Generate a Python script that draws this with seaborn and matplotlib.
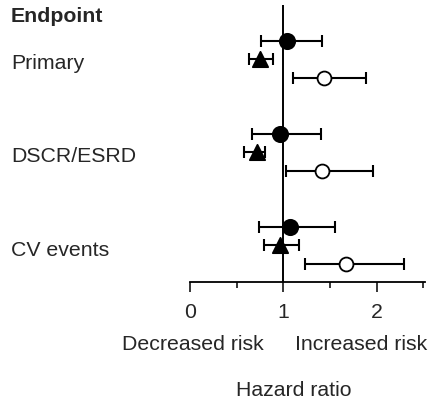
import numpy as np
import pandas as pd
import matplotlib
matplotlib.use("Agg")
import matplotlib.pyplot as plt
import matplotlib.transforms as mtransforms
import seaborn as sns

# endpoints and hazard ratios (point estimate, lower CI, upper CI)
endpoints = ["Primary", "DSCR/ESRD", "CV events"]

filled_hr = [1.04, 0.96, 1.07]
filled_lo = [0.76, 0.66, 0.74]
filled_hi = [1.42, 1.40, 1.56]

triangle_hr = [0.75, 0.72, 0.97]
triangle_lo = [0.63, 0.58, 0.79]
triangle_hi = [0.89, 0.80, 1.17]

open_hr = [1.44, 1.42, 1.67]
open_lo = [1.10, 1.03, 1.23]
open_hi = [1.89, 1.96, 2.30]

x_ticks = [0, 1, 2]
x_tick_labels = ["0", "1", "2"]

sns.set_style("white")
plt.rcParams['font.family'] = ['Liberation Sans', 'DejaVu Sans']
FS = 15.3

fig = plt.figure(figsize=(4.28, 4.05), dpi=100)
ax = fig.add_axes([190 / 428, (405 - 282) / 405, 235 / 428, 277 / 405])

group_pos = np.arange(len(endpoints)) * 5.0

series = [
    ("filled", filled_hr, filled_lo, filled_hi, -1, "o", "black", 11),
    ("triangle", triangle_hr, triangle_lo, triangle_hi, 0, "^", "black", 11),
    ("open", open_hr, open_lo, open_hi, 1, "o", "white", 10),
]

ax.axvline(1, color="black", lw=1.4, zorder=1)

for name, hr, lo, hi, off, marker, face, ms in series:
    df = pd.DataFrame({"hr": hr, "lo": lo, "hi": hi, "y": group_pos + off})
    ax.errorbar(df["hr"], df["y"],
                xerr=[df["hr"] - df["lo"], df["hi"] - df["hr"]],
                fmt="none", ecolor="black", elinewidth=1.5,
                capsize=4.5, capthick=1.5, zorder=2)
    sns.scatterplot(data=df, x="hr", y="y", marker=marker, color=face,
                    edgecolor="black", linewidth=1.3, s=ms ** 2,
                    ax=ax, zorder=3, legend=False)

ax.set_xlim(0, 2.52)
ax.set_ylim(11.97, -2.92)
ax.set_xticks(x_ticks)
ax.set_xticklabels(x_tick_labels, fontsize=FS)
ax.set_xticks([0.5, 1.5, 2.5], minor=True)
ax.tick_params(axis="x", which="major", direction="out", length=7,
               width=1.3, pad=8, bottom=True)
ax.tick_params(axis="x", which="minor", direction="out", length=4.5,
               width=1.3, bottom=True)
ax.set_yticks([])
ax.set_xlabel("")
ax.set_ylabel("")
for side in ["left", "right", "top"]:
    ax.spines[side].set_visible(False)
ax.spines["bottom"].set_linewidth(1.3)
ax.spines["bottom"].set_color("black")

# endpoint labels on the left
trans = mtransforms.blended_transform_factory(fig.transFigure, ax.transData)
for name, y in zip(endpoints, group_pos):
    ax.text(11 / 428, y + 0.25, name, transform=trans, ha="left",
            va="center", fontsize=FS, clip_on=False)

fig.text(11 / 428, 1 - 17 / 405, "Endpoint", ha="left", va="center",
         fontsize=FS, fontweight="bold")
fig.text(193 / 428, 1 - 345 / 405, "Decreased risk", ha="center",
         va="center", fontsize=FS)
fig.text(361 / 428, 1 - 345 / 405, "Increased risk", ha="center",
         va="center", fontsize=FS)
fig.text(294 / 428, 1 - 391 / 405, "Hazard ratio", ha="center",
         va="center", fontsize=FS)

fig.savefig("out.png", dpi=100)
